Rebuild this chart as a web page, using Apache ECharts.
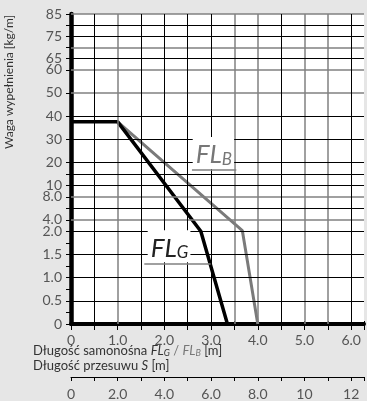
<!DOCTYPE html>
<html>
<head>
<meta charset="utf-8">
<script src="https://cdn.jsdelivr.net/npm/echarts@6/dist/echarts.min.js"></script>
<style>
html, body { margin: 0; padding: 0; background: #e6e6e6; }
#chart { width: 367px; height: 401px; }
</style>
</head>
<body>
<div id="chart"></div>
<script>
// oś Y: wartości z etykietami (kg/m)
const yLabelValues = [0, 0.5, 1.0, 1.5, 2.0, 4.0, 8.0, 10, 20, 30, 40, 50, 60, 65, 75, 85]
const yLabelTexts = ['0', '0.5', '1.0', '1.5', '2.0', '4.0', '8.0', '10', '20', '30', '40', '50', '60', '65', '75', '85']
const yTickValues = [0, 0.25, 0.5, 0.75, 1, 1.25, 1.5, 1.75, 2, 4, 6, 8, 10, 15, 20, 30, 40, 50, 60, 65, 70, 75, 80, 85]
const yGridBlack = [0.5, 1.0, 1.5, 2.0, 6, 10, 15, 20, 30, 40, 65, 75, 80]
const yGridGray = [4, 8, 50, 60, 70, 85]
const xGridBlack = [0.5, 1.5, 2, 2.5, 3, 4.5, 6]
const xGridGray = [1, 3.5, 4, 5, 5.5]

// krzywe FL_G i FL_B: [dlugosc m, waga kg/m]
const flG = [[0, 37.5], [1.0, 37.5], [2.78, 2.0], [3.35, 0]]
const flB = [[1.0, 37.5], [3.67, 2.1], [4.0, 0]]

// podpisy krzywych
const labelG = [2.1, 1.68]
const labelB = [3.05, 24]
const underG = [[1.57, 1.29], [2.99, 1.29]]
const underB = [[2.59, 16.9], [3.54, 16.9]]

// skala osi Y (odcinkami liniowa)
const segs = [[0, 0], [2, 93], [10, 139], [60, 255], [85, 311]]
function T(v) {
  for (let i = 1; i < segs.length; i++) {
    if (v <= segs[i][0]) {
      const a = segs[i - 1], b = segs[i]
      return a[1] + (v - a[0]) * (b[1] - a[1]) / (b[0] - a[0])
    }
  }
  return segs[segs.length - 1][1]
}
const conv = d => d.map(p => [p[0], T(p[1])])

const FONT = 'Lato'
const myChart = echarts.init(document.getElementById('chart'))

const hLines = (vals, color, w) => vals.map(v => ({ yAxis: T(v), lineStyle: { color: color, width: w, type: 'solid' } }))
const vLines = (vals, color, w) => vals.map(v => ({ xAxis: v, lineStyle: { color: color, width: w, type: 'solid' } }))

const flLabel = (c, color) => ({
  coord: [c[0], T(c[1])],
  symbol: 'rect',
  symbolSize: 0,
  label: {
    show: true,
    position: 'inside',
    backgroundColor: '#fff',
    padding: [3, 2, 1, 3],
    formatter: p => '{a|FL}{b|' + p.name + '}',
    rich: {
      a: { fontFamily: FONT, fontStyle: 'italic', fontSize: 26, lineHeight: 28, color: color, verticalAlign: 'bottom' },
      b: { fontFamily: FONT, fontStyle: 'italic', fontSize: 17, lineHeight: 17, color: color, verticalAlign: 'bottom' }
    }
  }
})

myChart.setOption({
  backgroundColor: '#e6e6e6',
  animation: false,
  grid: { left: 71, right: 0, top: 14, height: 311, backgroundColor: '#fff', show: true, borderWidth: 0 },
  xAxis: [
    {
      type: 'value', min: 0, max: 6.275, interval: 0.5,
      axisLine: { onZero: false, lineStyle: { color: '#000', width: 4 } },
      axisTick: { show: true, length: 6, lineStyle: { color: '#000', width: 1 } },
      axisLabel: {
        margin: 9, color: '#555', fontFamily: FONT, fontSize: 14,
        formatter: v => (Math.abs(v % 1) < 1e-9 ? (v === 0 ? '0' : v.toFixed(1)) : '')
      },
      splitLine: { show: false }
    },
    {
      type: 'value', min: 0, max: 12.55, interval: 1, position: 'bottom', offset: 53,
      axisLine: { onZero: false, lineStyle: { color: '#000', width: 1 } },
      axisTick: { show: true, length: 4, lineStyle: { color: '#000', width: 1 } },
      axisLabel: {
        margin: 10, color: '#555', fontFamily: FONT, fontSize: 14,
        formatter: v => (Math.abs(v % 2) < 1e-9 ? (v === 0 ? '0' : v < 10 ? v.toFixed(1) : String(v)) : '')
      },
      splitLine: { show: false }
    },
    {
      type: 'value', min: 0, max: 12.55, interval: 1, position: 'bottom', offset: 53,
      axisLine: { show: false },
      axisTick: { show: true, inside: true, length: 3, lineStyle: { color: '#000', width: 1 } },
      axisLabel: { show: false },
      splitLine: { show: false }
    }
  ],
  yAxis: {
    type: 'value', min: 0, max: T(85),
    axisLine: { onZero: false, lineStyle: { color: '#000', width: 4.5 } },
    axisTick: { show: true, length: 5, customValues: yTickValues.map(T), lineStyle: { color: '#000', width: 1 } },
    axisLabel: {
      margin: 9, color: '#555', fontFamily: FONT, fontSize: 14,
      customValues: yLabelValues.map(T),
      formatter: v => {
        const i = yLabelValues.findIndex(y => Math.abs(T(y) - v) < 1e-6)
        return i >= 0 ? yLabelTexts[i] : ''
      }
    },
    splitLine: { show: false }
  },
  series: [
    {
      type: 'line', data: [], z: 1, silent: true,
      markLine: {
        silent: true, symbol: 'none', label: { show: false }, animation: false,
        data: [].concat(
          hLines(yGridGray, '#808080', 1.5),
          vLines(xGridGray, '#808080', 1.5),
          hLines(yGridBlack, '#000', 1),
          vLines(xGridBlack, '#000', 1)
        )
      }
    },
    {
      name: 'FL_B', type: 'line', data: conv(flB), z: 3, showSymbol: false,
      lineStyle: { color: '#7a7a7a', width: 3 },
      markLine: {
        silent: true, symbol: 'none', label: { show: false },
        lineStyle: { color: '#808080', width: 1.5, type: 'solid' },
        data: [[{ coord: conv(underB)[0] }, { coord: conv(underB)[1] }]]
      },
      markPoint: { silent: true, data: [Object.assign(flLabel(labelB, '#777'), { name: 'B' })] }
    },
    {
      name: 'FL_G', type: 'line', data: conv(flG), z: 4, showSymbol: false,
      lineStyle: { color: '#000', width: 3.5 },
      markLine: {
        silent: true, symbol: 'none', label: { show: false },
        lineStyle: { color: '#808080', width: 1.5, type: 'solid' },
        data: [[{ coord: conv(underG)[0] }, { coord: conv(underG)[1] }]]
      },
      markPoint: { silent: true, data: [Object.assign(flLabel(labelG, '#222'), { name: 'G' })] }
    }
  ],
  graphic: [
    {
      type: 'text', left: 33, top: 344,
      style: {
        text: 'Długość samonośna {i|FL}{s|G}{g| / }{ig|FL}{sg|B} [m]',
        fill: '#333', font: '13px ' + FONT,
        rich: {
          i: { fontFamily: FONT, fontSize: 13, fontStyle: 'italic', fill: '#333' },
          s: { fontFamily: FONT, fontSize: 9, fontStyle: 'italic', fill: '#333', padding: [6, 0, 0, 0] },
          g: { fontFamily: FONT, fontSize: 13, fill: '#777' },
          ig: { fontFamily: FONT, fontSize: 13, fontStyle: 'italic', fill: '#777' },
          sg: { fontFamily: FONT, fontSize: 9, fontStyle: 'italic', fill: '#777', padding: [6, 0, 0, 0] }
        }
      }
    },
    {
      type: 'text', left: 33, top: 359,
      style: {
        text: 'Długość przesuwu {i|S} [m]',
        fill: '#333', font: '13px ' + FONT,
        rich: { i: { fontFamily: FONT, fontSize: 13, fontStyle: 'italic', fill: '#333' } }
      }
    },
    {
      type: 'text', x: 9, y: 82, rotation: Math.PI / 2,
      style: {
        text: 'Waga wypełnienia [kg/m]', fill: '#333', font: '12px ' + FONT,
        align: 'center', verticalAlign: 'middle'
      }
    }
  ]
})
</script>
</body>
</html>
